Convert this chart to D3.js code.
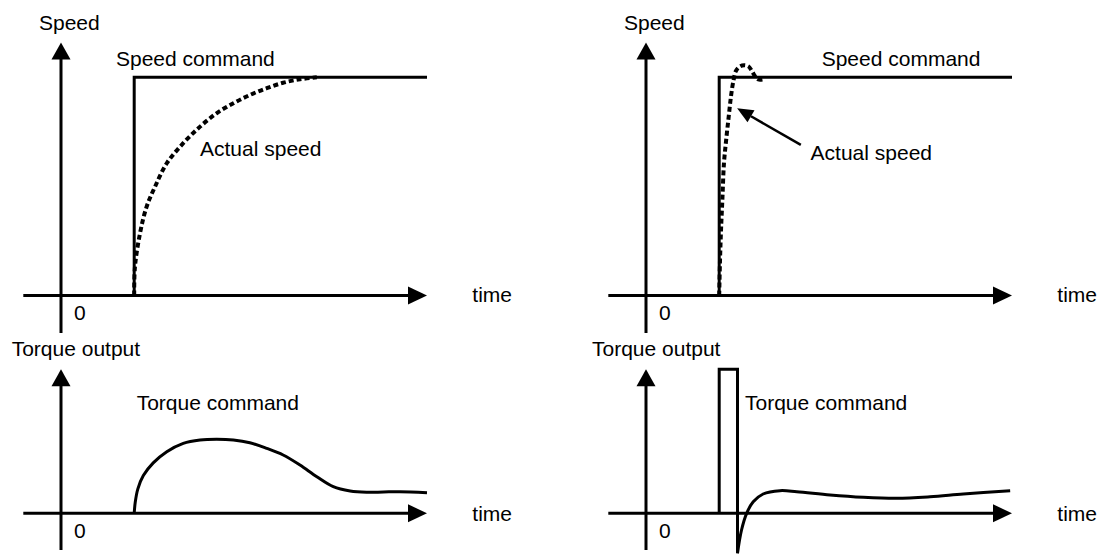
<!DOCTYPE html>
<html>
<head>
<meta charset="utf-8">
<script src="https://cdn.jsdelivr.net/npm/d3@7/dist/d3.min.js"></script>
<style>
    html, body { margin: 0; padding: 0; background: #fff; }
    svg text { font-family: "Liberation Sans", Arial, sans-serif; font-size: 21px; fill: #000; }
</style>
</head>
<body>
<svg id="chart" width="1102" height="556"></svg>
<script>
// Time runs 0..10 (arbitrary units), the command steps at t = 2.
const time_domain = [0, 10];
const step_time = 2;
const speed_command_level = 1;

// Left column: low gain, slow response. Points are [time, value].
const slow_speed = [[2.0, 0], [2.02, 0.13], [2.16, 0.286], [2.34, 0.407], [2.57, 0.499], [2.89, 0.606],
    [3.34, 0.698], [3.80, 0.774], [4.25, 0.835], [4.71, 0.881], [5.16, 0.919], [5.62, 0.95],
    [6.07, 0.975], [6.53, 0.991], [6.99, 1.0]];
const slow_torque = [[2.0, 0], [2.03, 0.08], [2.10, 0.17], [2.25, 0.262], [2.52, 0.35], [2.89, 0.428],
    [3.34, 0.486], [3.80, 0.509], [4.25, 0.514], [4.71, 0.509], [5.16, 0.49], [5.62, 0.451],
    [6.07, 0.405], [6.53, 0.335], [6.99, 0.254], [7.44, 0.185], [7.90, 0.155], [8.35, 0.146],
    [8.81, 0.148], [9.26, 0.15], [10.0, 0.143]];

// Right column: high gain, fast response with overshoot.
const fast_speed = [[2.0, 0], [2.02, 0.148], [2.05, 0.30], [2.09, 0.453], [2.13, 0.606], [2.19, 0.713],
    [2.26, 0.82], [2.32, 0.91], [2.39, 0.985], [2.46, 1.03], [2.57, 1.05], [2.68, 1.055],
    [2.80, 1.05], [2.89, 1.03], [2.98, 1.005], [3.07, 0.99], [3.18, 0.99]];
const torque_pulse = [[2.0, 0], [2.0, 1.0], [2.5, 1.0], [2.5, -0.278]];
const fast_torque = [[2.5, -0.278], [2.61, -0.116], [2.75, 0], [2.93, 0.08], [3.20, 0.134], [3.66, 0.157],
    [4.12, 0.15], [5.03, 0.127], [5.94, 0.111], [6.85, 0.104], [7.76, 0.115], [8.67, 0.134],
    [9.95, 0.157]];

// Callout in the right speed chart: [tail, head]
const overshoot_callout = [[4.23, 0.69], [2.49, 0.858]];

// Axis extents in data units
const time_axis_extent = [-1.03, 10];
const speed_axis_extent = [-0.172, 1.159];
const torque_axis_extent = [-0.255, 1.0];

// Layout
const panel_x0 = [61, 646];
const time_width = 366;
const speed_axis_y = 295.5, speed_top_y = 77.3;
const torque_axis_y = 513.3, torque_top_y = 369.3;

const svg = d3.select("#chart");

/**
 * Draws one arrowed axis pair.
 */
function drawAxes(g, x, y, y_extent) {
    const ax = 19, aw = 9;   // x-axis arrow length / half width
    const ay = 17, ah = 9.5; // y-axis arrow length / half width
    const x_tip = x(time_axis_extent[1]);
    const y_tip = y(y_extent[1]);

    g.append("line")
        .attr("x1", x(time_axis_extent[0])).attr("x2", x_tip - ax + 1)
        .attr("y1", y(0)).attr("y2", y(0))
        .attr("stroke", "black").attr("stroke-width", 3);
    g.append("path")
        .attr("d", `M${x_tip},${y(0)}L${x_tip - ax},${y(0) - aw}L${x_tip - ax},${y(0) + aw}Z`)
        .attr("fill", "black");

    g.append("line")
        .attr("x1", x(0)).attr("x2", x(0))
        .attr("y1", y(y_extent[0])).attr("y2", y_tip + ay - 1)
        .attr("stroke", "black").attr("stroke-width", 3);
    g.append("path")
        .attr("d", `M${x(0)},${y_tip}L${x(0) - ah},${y_tip + ay}L${x(0) + ah},${y_tip + ay}Z`)
        .attr("fill", "black");
}

function addText(g, str, px, py) {
    g.append("text").attr("x", px).attr("y", py).text(str);
}

panel_x0.forEach((x0, col) => {
    const g = svg.append("g");
    const x = d3.scaleLinear().domain(time_domain).range([x0, x0 + time_width]);
    const y_speed = d3.scaleLinear().domain([0, 1]).range([speed_axis_y, speed_top_y]);
    const y_torque = d3.scaleLinear().domain([0, 1]).range([torque_axis_y, torque_top_y]);

    const line_speed = d3.line().x(d => x(d[0])).y(d => y_speed(d[1]));
    const line_torque = d3.line().x(d => x(d[0])).y(d => y_torque(d[1]));
    const smooth = d3.curveCatmullRom.alpha(0.5);

    // ---- Speed chart
    drawAxes(g, x, y_speed, speed_axis_extent);

    const command = [[step_time, 0], [step_time, speed_command_level], [time_domain[1], speed_command_level]];
    g.append("path")
        .attr("d", line_speed(command))
        .attr("fill", "none").attr("stroke", "black").attr("stroke-width", 3)
        .attr("stroke-linejoin", "miter");

    g.append("path")
        .attr("d", line_speed.curve(smooth)(col === 0 ? slow_speed : fast_speed))
        .attr("fill", "none").attr("stroke", "black").attr("stroke-width", 4)
        .attr("stroke-dasharray", "5,3");
    line_speed.curve(d3.curveLinear);

    // ---- Torque chart
    drawAxes(g, x, y_torque, torque_axis_extent);

    if (col === 0) {
        g.append("path")
            .attr("d", line_torque.curve(smooth)(slow_torque))
            .attr("fill", "none").attr("stroke", "black").attr("stroke-width", 3);
    } else {
        g.append("path")
            .attr("d", line_torque(torque_pulse))
            .attr("fill", "none").attr("stroke", "black").attr("stroke-width", 3)
            .attr("stroke-linejoin", "miter");
        g.append("path")
            .attr("d", line_torque.curve(smooth)(fast_torque))
            .attr("fill", "none").attr("stroke", "black").attr("stroke-width", 3);

        // Callout arrow to the overshoot
        const [tail, head] = overshoot_callout.map(p => [x(p[0]), y_speed(p[1])]);
        const ang = Math.atan2(head[1] - tail[1], head[0] - tail[0]);
        const len = 16, hw = 7;
        const bx = head[0] - len * Math.cos(ang), by = head[1] - len * Math.sin(ang);
        g.append("line")
            .attr("x1", tail[0]).attr("y1", tail[1]).attr("x2", bx).attr("y2", by)
            .attr("stroke", "black").attr("stroke-width", 2.5);
        g.append("path")
            .attr("d", `M${head[0]},${head[1]}` +
                `L${bx + hw * Math.sin(ang)},${by - hw * Math.cos(ang)}` +
                `L${bx - hw * Math.sin(ang)},${by + hw * Math.cos(ang)}Z`)
            .attr("fill", "black");
    }

    // ---- Labels
    addText(g, "Speed", x0 - 22, 29.5);
    addText(g, "Speed command", col === 0 ? x0 + 55 : x0 + 175.7, 66);
    addText(g, "Actual speed", col === 0 ? x0 + 139 : x0 + 164.6, col === 0 ? 156 : 160);
    addText(g, "0", x0 + 13, speed_axis_y + 24.5);
    addText(g, "time", x0 + 411.3, 301.7);

    addText(g, "Torque output", col === 0 ? x0 - 49.3 : x0 - 54, 356);
    addText(g, "Torque command", col === 0 ? x0 + 75.7 : x0 + 99, 410);
    addText(g, "0", x0 + 13, torque_axis_y + 25);
    addText(g, "time", x0 + 411.3, 521);
});
</script>
</body>
</html>
